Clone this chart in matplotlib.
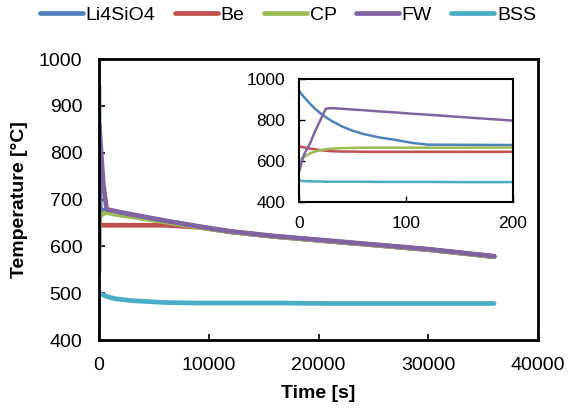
import matplotlib
matplotlib.use("Agg")
import matplotlib.pyplot as plt

plt.rcParams['font.family'] = ['Liberation Sans', 'DejaVu Sans']

# tiempo [s]
tiempo = [0, 3, 5, 10, 15, 20, 25, 30, 40, 50, 60, 75, 90, 105, 120, 150, 200,
          400, 700, 1500, 3000, 6000, 9000, 12000, 16000, 21000, 26000, 30000, 36000]

# temperaturas [°C]
li4sio4 = [943, 922, 910, 881, 855, 833, 814, 797, 769, 748, 732, 715, 703, 689, 680, 679, 678,
           677, 675, 671, 666, 654, 642, 631, 621, 611, 601, 593, 578]
be = [672, 668, 666, 661, 657, 653, 650, 648, 646, 646, 645, 645, 645, 645, 645, 645, 645,
      645, 645, 645, 645, 645, 641, 631, 621, 611, 601, 593, 578]
cp = [598, 615, 622, 636, 646, 653, 657, 660, 663, 664, 665, 665, 665, 665, 665, 665, 666,
      670, 672, 668, 663, 652, 641, 631, 621, 611, 601, 593, 578]
fw = [545, 603, 635, 682, 745, 800, 855, 858, 855, 851, 848, 842, 837, 831, 826, 815, 797,
      730, 679, 675, 668, 655, 643, 632, 622, 612, 602, 594, 579]
bss = [506, 503, 502, 501, 500, 500, 499, 499, 499, 499, 499, 498, 498, 498, 498, 497, 497,
       496, 493, 488, 484, 480, 479, 479, 479, 478, 478, 478, 478]

series = [("Li4SiO4", li4sio4, '#4F81BD'),
          ("Be", be, '#C0504D'),
          ("CP", cp, '#9BBB59'),
          ("FW", fw, '#8064A2'),
          ("BSS", bss, '#4BACC6')]

fig = plt.figure(figsize=(5.68, 4.09), dpi=100)
ax = fig.add_axes([0.1743, 0.1687, 0.773, 0.687])

for nombre, valores, color in series:
    ax.plot(tiempo, valores, color=color, linewidth=3.4, label=nombre, solid_capstyle='round')

ax.set_xlim(0, 40000)
ax.set_ylim(400, 1000)
ax.set_xticks(range(0, 40001, 10000))
ax.set_yticks(range(400, 1001, 100))
ax.tick_params(direction='in', length=4, width=1.2, labelsize=14, pad=12)
for s in ax.spines.values():
    s.set_linewidth(2)
ax.set_xlabel("Time [s]", fontsize=14, fontweight='bold', labelpad=8)
ax.set_ylabel("Temperature [°C]", fontsize=14, fontweight='bold', labelpad=8)

# detalle de los primeros 200 s
axi = fig.add_axes([0.5264, 0.5061, 0.3768, 0.3007])
for nombre, valores, color in series:
    axi.plot(tiempo, valores, color=color, linewidth=1.8)
axi.set_xlim(0, 200)
axi.set_ylim(400, 1000)
axi.set_xticks([0, 100, 200])
axi.set_yticks([400, 600, 800, 1000])
axi.tick_params(direction='in', length=4, width=1, labelsize=12.5, pad=10)
for s in axi.spines.values():
    s.set_linewidth(1.5)

fig.legend(loc='center', bbox_to_anchor=(0.507, 0.963), ncol=5, frameon=False,
           fontsize=14, handlelength=2.2, handletextpad=0.15, columnspacing=1.0)

plt.savefig("out.png", dpi=100)
